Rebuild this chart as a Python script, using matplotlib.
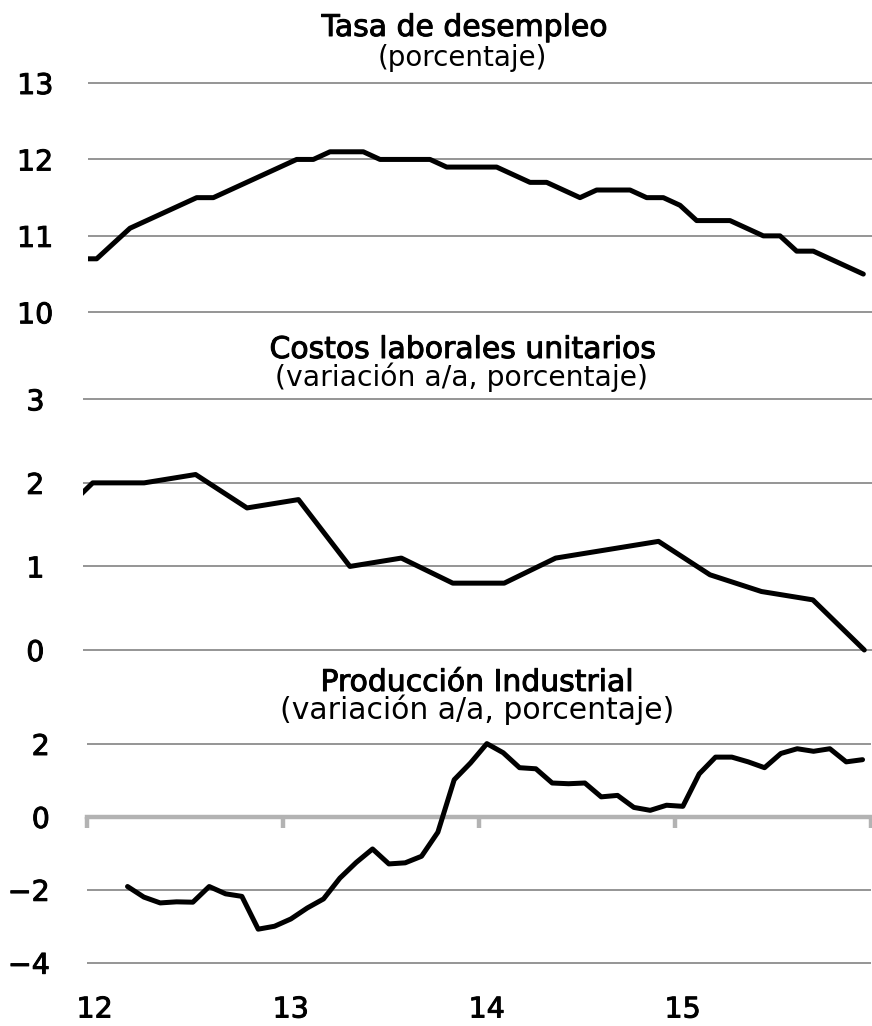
import numpy as np
import matplotlib
matplotlib.use("Agg")
import matplotlib.pyplot as plt
import matplotlib.patheffects as pe
from matplotlib.transforms import ScaledTranslation

plt.rcParams['font.family'] = ['DejaVu Sans']

# ---------------- data ----------------
# Unemployment rate, monthly, Dec-2011 .. Nov-2015 (month index -1 .. 46, 0 = Jan-2012)
unemp_start_month = -1
unemp = [10.7, 10.7, 10.9, 11.1, 11.2, 11.3, 11.4, 11.5, 11.5, 11.6, 11.7, 11.8,
         11.9, 12.0, 12.0, 12.1, 12.1, 12.1, 12.0, 12.0, 12.0, 12.0, 11.9, 11.9,
         11.9, 11.9, 11.8, 11.7, 11.7, 11.6, 11.5, 11.6, 11.6, 11.6, 11.5, 11.5,
         11.4, 11.2, 11.2, 11.2, 11.1, 11.0, 11.0, 10.8, 10.8, 10.7, 10.6, 10.5]

# Unit labour costs, quarterly, 2011Q4 .. 2015Q4 (quarter index -1 .. 15, 0 = 2012Q1)
ulc_start_quarter = -1
ulc = [1.4, 2.0, 2.0, 2.1, 1.7, 1.8, 1.0, 1.1, 0.8, 0.8, 1.1, 1.2, 1.3, 0.9, 0.7, 0.6, 0.0]

# Industrial production, monthly, Mar-2012 .. Dec-2015 (month index 2 .. 47)
ip_start_month = 2
ip = [-1.91, -2.20, -2.36, -2.33, -2.34, -1.91, -2.11, -2.18, -3.08, -3.00,
      -2.80, -2.50, -2.25, -1.68, -1.25, -0.88, -1.29, -1.26, -1.08, -0.42,
      1.02, 1.48, 2.01, 1.76, 1.35, 1.32, 0.93, 0.91, 0.93, 0.55,
      0.59, 0.26, 0.18, 0.32, 0.29, 1.18, 1.64, 1.64, 1.51, 1.35,
      1.74, 1.87, 1.80, 1.87, 1.51, 1.57]

year_ticks = [12, 13, 14, 15, 16]
year_labels = ['12', '13', '14', '15', '']

titles = ['Tasa de desempleo', 'Costos laborales unitarios', 'Producción Industrial']
subtitles = ['(porcentaje)', '(variación a/a, porcentaje)', '(variación a/a, porcentaje)']

yticks1 = [10, 11, 12, 13]
yticks2 = [0, 1, 2, 3]
yticks3 = [-4, -2, 0, 2]

# ---------------- figure ----------------
W, H = 872, 1026
fig = plt.figure(figsize=(W / 100, H / 100), dpi=100)

GRID = '#8c8c8c'
AXIS = '#b3b3b3'
LW = 3.6
TICKFS = 20.5
HEAVY = [pe.withStroke(linewidth=0.7, foreground='black')]


def add_ax(left, right, top, bottom):
    return fig.add_axes([left / W, 1 - bottom / H, (right - left) / W, (bottom - top) / H])


def style(ax, yticks, pad):
    ax.set_yticks(yticks)
    ax.grid(axis='y', color=GRID, linewidth=1.3)
    ax.set_axisbelow(True)
    for s in ax.spines.values():
        s.set_visible(False)
    ax.tick_params(axis='y', length=0, pad=pad, labelsize=TICKFS)
    ax.tick_params(axis='x', length=0, labelbottom=False)
    for lab in ax.get_yticklabels():
        lab.set_path_effects(HEAVY)


def fig_text(x, y, s, size, heavy=False):
    t = fig.text(x / W, 1 - y / H, s, ha='center', va='baseline', fontsize=size)
    if heavy:
        t.set_path_effects(HEAVY)


# Panel 1
ax1 = add_ax(88, 872, 83 - 0.05 * 76.43, 312.3 + 0.05 * 76.43)
x1 = np.arange(len(unemp)) + unemp_start_month
ax1.plot(x1, unemp, color='black', lw=LW, solid_joinstyle='round', solid_capstyle='round', zorder=3)
ax1.set_xlim(-0.52, 46.52)
ax1.set_ylim(9.95, 13.05)
style(ax1, yticks1, 25)

# Panel 2
u2 = (650 - 399.3) / 3
ax2 = add_ax(83.3, 872, 399.3 - 0.08 * u2, 650 + 0.08 * u2)
x2 = np.arange(len(ulc)) + ulc_start_quarter
ax2.plot(x2, ulc, color='black', lw=LW, solid_joinstyle='round', solid_capstyle='round', zorder=3)
ax2.set_xlim(-0.183, 15.15)
ax2.set_ylim(-0.08, 3.08)
style(ax2, yticks2, 28)

# Panel 3
u3 = (962.7 - 744) / 6
ax3 = add_ax(86.7, 870.7, 744 - 0.1 * u3, 962.7 + 0.1 * u3)
m3 = np.arange(len(ip)) + ip_start_month
x3 = 12 + (m3 + 0.5) / 12
ax3.plot(x3, ip, color='black', lw=LW, solid_joinstyle='round', solid_capstyle='round', zorder=3)
ax3.set_xlim(12, 16)
ax3.set_ylim(-4.1, 2.1)
style(ax3, yticks3, 26.5)
ax3.spines['bottom'].set_visible(True)
ax3.spines['bottom'].set_position(('data', 0))
ax3.spines['bottom'].set_color(AXIS)
ax3.spines['bottom'].set_linewidth(3.2)
ax3.spines['bottom'].set_zorder(2.5)
ax3.set_xticks(year_ticks)
ax3.tick_params(axis='x', direction='out', length=8, width=3.2, color=AXIS, labelbottom=False)
for gl, v in zip(ax3.yaxis.get_gridlines(), yticks3):
    if v == 0:
        gl.set_visible(False)

sec = ax3.secondary_xaxis('bottom')
sec.set_xticks(year_ticks[:-1], year_labels[:-1])
sec.spines['bottom'].set_visible(False)
sec.tick_params(length=0, pad=21, labelsize=TICKFS)
off = ScaledTranslation(8 / 100, 0, fig.dpi_scale_trans)
for lab in sec.get_xticklabels():
    lab.set_transform(lab.get_transform() + off)
    lab.set_path_effects(HEAVY)

# Titles
fig_text(464.5, 36, titles[0], 21.5, heavy=True)
fig_text(462.5, 66, subtitles[0], 20)
fig_text(462.7, 358, titles[1], 21.5, heavy=True)
fig_text(461, 386, subtitles[1], 20.3)
fig_text(477, 691, titles[2], 21.5, heavy=True)
fig_text(477, 719, subtitles[2], 21.5)

fig.savefig('out.png', dpi=100)
